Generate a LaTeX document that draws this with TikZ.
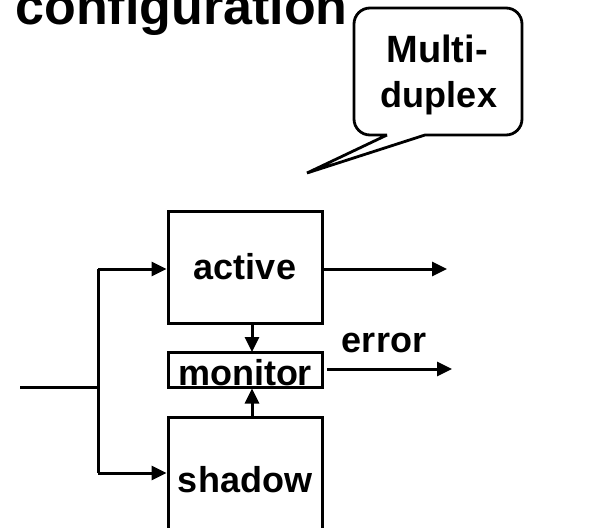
\documentclass[tikz,border=0pt]{standalone}
\usepackage{fontspec}
\setmainfont{Liberation Sans}
\usetikzlibrary{arrows.meta}
\begin{document}
\begin{tikzpicture}[x=1pt,y=-1pt,
  line width=3pt,
  arr/.style={-{Triangle[length=15pt,width=14pt]}},
  box/.style={draw,line width=3pt,minimum width=154pt,inner sep=0pt,font=\fontsize{36}{40}\selectfont\bfseries},
  txt/.style={inner sep=0pt,font=\fontsize{36}{40}\selectfont\bfseries}]
\clip (0,0) rectangle (598,528);
\useasboundingbox (0,0) rectangle (598,528);
% title
\node[txt,font=\fontsize{52}{56}\selectfont\bfseries,anchor=base west] (title) at (14,24) {configuration};
% callout
\draw[line width=2.8pt] (387,135) -- (307,173) -- (425,135) [rounded corners=16pt] -- (522,135) -- (522,8) -- (354,8) -- (354,135) [sharp corners] -- (387,135);
\node[txt,anchor=base,font=\fontsize{38}{40}\selectfont\bfseries] (call1) at (437,62) {Multi-};
\node[txt,anchor=base] (call2) at (439,107) {duplex};
% boxes
\node[box,minimum height=112pt] (active) at (245,267) {active};
\node[box,minimum height=35pt] (monitor) at (245,369.5) {};
\node[txt,anchor=base] (montxt) at (245,385) {monitor};
\node[box,minimum height=125pt] (shadow) at (245,479.5) {shadow};
% input
\coordinate (in) at (20,387);
\coordinate (j) at (98,387);
\coordinate (ja) at (98,269);
\coordinate (js) at (98,473);
\draw (in) -- (j);
\draw (ja) -- (js);
\draw[arr] (ja) -- (ja -| active.west);
\draw[arr] (js) -- (js -| shadow.west);
% outputs
\coordinate (aout) at (447,269);
\draw[arr] (aout -| active.east) -- (aout);
\coordinate (es) at (327,369);
\coordinate (ee) at (452,369);
\draw[arr] (es) -- (ee);
\node[txt,anchor=base] (err) at (384,352) {error};
% monitor arrows
\draw[arr] (252,323) -- (252,352);
\draw[arr] (shadow.north -| 252,0) -- (monitor.south -| 252,0);
\end{tikzpicture}
\end{document}
